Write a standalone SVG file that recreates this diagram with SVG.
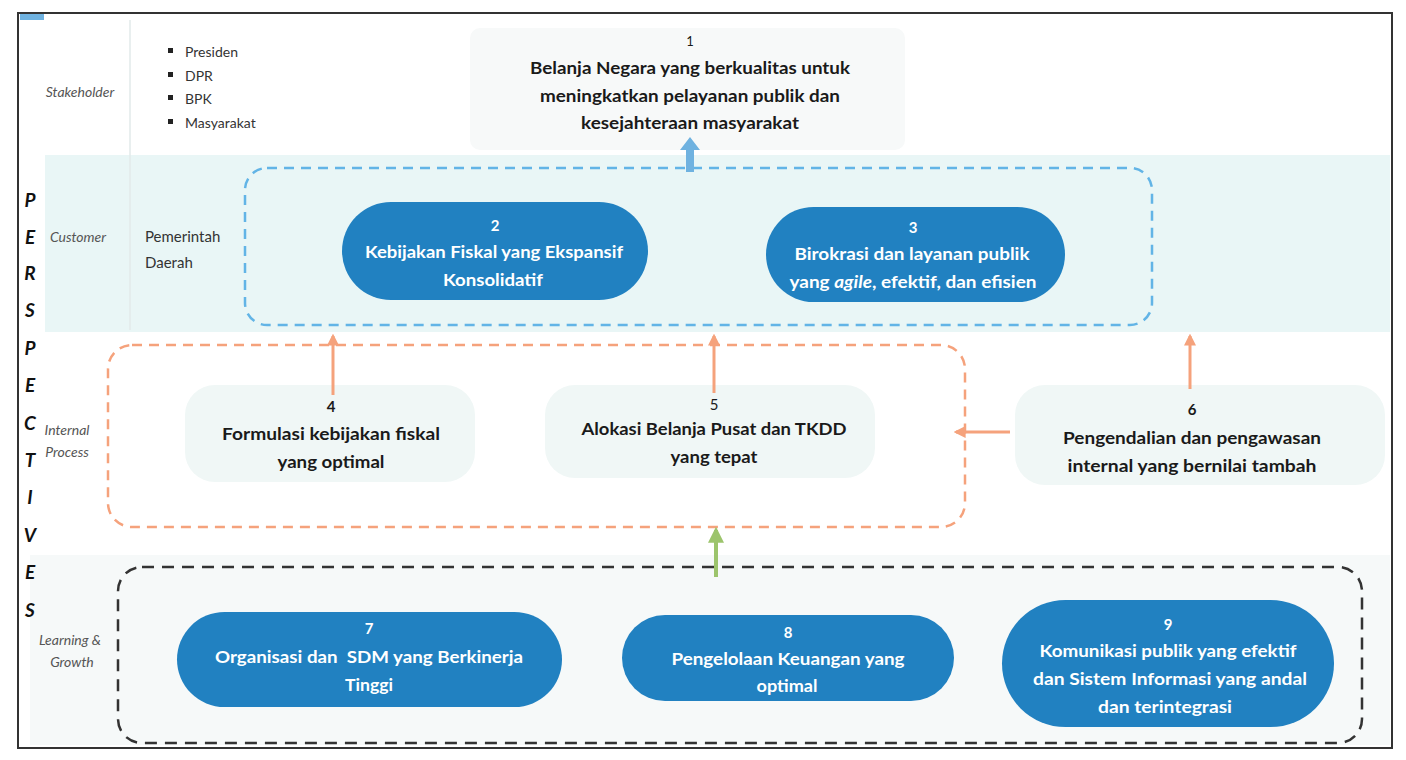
<svg xmlns="http://www.w3.org/2000/svg" width="1406" height="760" viewBox="0 0 1406 760">
<defs>
<style>
.t{font-family:Lato,"Open Sans","Liberation Sans",sans-serif;font-weight:bold;font-size:17px;text-anchor:middle;fill:#1a1a1a}
.w{fill:#ffffff}
.n{font-size:15px}
.lab{font-family:Lato,"Open Sans","Liberation Sans",sans-serif;font-style:italic;font-size:14px;fill:#555;text-anchor:middle}
.pl{font-family:Lato,"Open Sans","Liberation Sans",sans-serif;font-weight:bold;font-style:italic;font-size:19px;fill:#111;text-anchor:middle}
.bl{font-family:Lato,"Open Sans","Liberation Sans",sans-serif;font-size:14px;fill:#333}
.pill{fill:#2181c1}
.soft{fill:#f0f7f6}
.oa{stroke:#f5a27c;stroke-width:3;fill:none}
</style>
<marker id="ho" viewBox="0 0 10 10" refX="8" refY="5" markerWidth="4" markerHeight="4" orient="auto"><path d="M0,0 L10,5 L0,10 z" fill="#f5a27c"/></marker>
<marker id="hg" viewBox="0 0 10 10" refX="8" refY="5" markerWidth="4" markerHeight="4" orient="auto"><path d="M0,0 L10,5 L0,10 z" fill="#9cc46c"/></marker>
</defs>
<rect width="1406" height="760" fill="#ffffff"/>
<g id="bands">
<rect x="45" y="155" width="1345" height="177" fill="#e9f6f6"/>
<rect x="30" y="555" width="1360" height="190" fill="#f6f9f9"/>
<line x1="130" y1="20" x2="130" y2="330" stroke="#e2eaea" stroke-width="1.5"/>
<rect x="20" y="12" width="24" height="8" fill="#6fb2e0"/>
</g>
<rect id="frame" x="18" y="13" width="1374" height="735" fill="none" stroke="#333" stroke-width="2"/>
<g id="perspectives">
<text class="pl" x="30" y="207">P</text>
<text class="pl" x="30" y="244">E</text>
<text class="pl" x="30" y="280">R</text>
<text class="pl" x="30" y="317">S</text>
<text class="pl" x="30" y="355">P</text>
<text class="pl" x="30" y="392">E</text>
<text class="pl" x="30" y="430">C</text>
<text class="pl" x="30" y="467">T</text>
<text class="pl" x="30" y="504">I</text>
<text class="pl" x="30" y="542">V</text>
<text class="pl" x="30" y="579">E</text>
<text class="pl" x="30" y="617">S</text>
</g>
<g id="row-labels">
<text class="lab" x="80" y="97">Stakeholder</text>
<text class="lab" x="78" y="242">Customer</text>
<text class="lab" x="67" y="435">Internal</text>
<text class="lab" x="67" y="457">Process</text>
<text class="lab" x="70" y="645">Learning &amp;</text>
<text class="lab" x="72" y="667">Growth</text>
</g>
<g id="stakeholders">
<rect x="168" y="48" width="5" height="5" fill="#222"/>
<rect x="168" y="72" width="5" height="5" fill="#222"/>
<rect x="168" y="95" width="5" height="5" fill="#222"/>
<rect x="168" y="119" width="5" height="5" fill="#222"/>
<text class="bl" x="185" y="57">Presiden</text>
<text class="bl" x="185" y="81">DPR</text>
<text class="bl" x="185" y="104">BPK</text>
<text class="bl" x="185" y="128">Masyarakat</text>
</g>
<g id="pemda">
<text class="bl" x="145" y="242" style="font-size:15px">Pemerintah</text>
<text class="bl" x="145" y="268" style="font-size:15px">Daerah</text>
</g>
<g id="groups">
<rect x="245" y="168" width="907" height="157" rx="22" fill="none" stroke="#62b4e6" stroke-width="2.5" stroke-dasharray="10 7"/>
<rect x="108" y="345" width="857" height="182" rx="24" fill="none" stroke="#f5a27c" stroke-width="2.5" stroke-dasharray="10 7"/>
<rect x="118" y="567" width="1244" height="176" rx="24" fill="none" stroke="#333" stroke-width="2.5" stroke-dasharray="12 8"/>
</g>
<g id="node1">
<rect x="470" y="28" width="435" height="122" rx="10" fill="#f7f9f9"/>
<text class="t n" x="690" y="46" style="font-weight:normal;font-size:13px">1</text>
<text class="t" x="690" y="74" textLength="320" lengthAdjust="spacingAndGlyphs">Belanja Negara yang berkualitas untuk</text>
<text class="t" x="690" y="102" textLength="300" lengthAdjust="spacingAndGlyphs">meningkatkan pelayanan publik dan</text>
<text class="t" x="690" y="129" textLength="218" lengthAdjust="spacingAndGlyphs">kesejahteraan masyarakat</text>
</g>
<g id="node2">
<rect class="pill" x="342" y="202" width="306" height="98" rx="49"/>
<text class="t w n" x="495" y="231">2</text>
<text class="t w" x="494" y="258" textLength="258" lengthAdjust="spacingAndGlyphs">Kebijakan Fiskal yang Ekspansif</text>
<text class="t w" x="493" y="286" textLength="100" lengthAdjust="spacingAndGlyphs">Konsolidatif</text>
</g>
<g id="node3">
<rect class="pill" x="766" y="207" width="299" height="95" rx="47.5"/>
<text class="t w n" x="913" y="233">3</text>
<text class="t w" x="912" y="260" textLength="235" lengthAdjust="spacingAndGlyphs">Birokrasi dan layanan publik</text>
<text class="t w" x="913" y="288" textLength="247" lengthAdjust="spacingAndGlyphs">yang <tspan font-style="italic">agile</tspan>, efektif, dan efisien</text>
</g>
<g id="node4">
<rect class="soft" x="185" y="385" width="290" height="97" rx="30"/>
<text class="t n" x="331" y="412">4</text>
<text class="t" x="331" y="440" textLength="218" lengthAdjust="spacingAndGlyphs">Formulasi kebijakan fiskal</text>
<text class="t" x="331" y="468" textLength="107" lengthAdjust="spacingAndGlyphs">yang optimal</text>
</g>
<g id="node5">
<rect class="soft" x="545" y="385" width="330" height="93" rx="30"/>
<text class="t n" x="714" y="410" style="font-weight:normal">5</text>
<text class="t" x="714" y="435" textLength="265" lengthAdjust="spacingAndGlyphs">Alokasi Belanja Pusat dan TKDD</text>
<text class="t" x="714" y="463" textLength="87" lengthAdjust="spacingAndGlyphs">yang tepat</text>
</g>
<g id="node6">
<rect class="soft" x="1015" y="385" width="370" height="100" rx="30"/>
<text class="t n" x="1192" y="415">6</text>
<text class="t" x="1192" y="444" textLength="258" lengthAdjust="spacingAndGlyphs">Pengendalian dan pengawasan</text>
<text class="t" x="1192" y="472" textLength="249" lengthAdjust="spacingAndGlyphs">internal yang bernilai tambah</text>
</g>
<g id="node7">
<rect class="pill" x="177" y="612" width="385" height="95" rx="47.5"/>
<text class="t w n" x="369" y="634">7</text>
<text class="t w" x="369" y="663" textLength="308" lengthAdjust="spacingAndGlyphs" xml:space="preserve">Organisasi dan  SDM yang Berkinerja</text>
<text class="t w" x="369" y="691" textLength="48" lengthAdjust="spacingAndGlyphs">Tinggi</text>
</g>
<g id="node8">
<rect class="pill" x="622" y="615" width="332" height="86" rx="43"/>
<text class="t w n" x="788" y="638">8</text>
<text class="t w" x="788" y="665" textLength="233" lengthAdjust="spacingAndGlyphs">Pengelolaan Keuangan yang</text>
<text class="t w" x="787" y="692" textLength="61" lengthAdjust="spacingAndGlyphs">optimal</text>
</g>
<g id="node9">
<rect class="pill" x="1002" y="600" width="332" height="127" rx="63.5"/>
<text class="t w n" x="1168" y="630">9</text>
<text class="t w" x="1168" y="657" textLength="257" lengthAdjust="spacingAndGlyphs">Komunikasi publik yang efektif</text>
<text class="t w" x="1170" y="685" textLength="274" lengthAdjust="spacingAndGlyphs">dan Sistem Informasi yang andal</text>
<text class="t w" x="1165" y="713" textLength="134" lengthAdjust="spacingAndGlyphs">dan terintegrasi</text>
</g>
<g id="connectors">
<path d="M686,172 L686,150 L680,150 L690,137 L700,150 L694,150 L694,172 z" fill="#6fb2e0"/>
<line class="oa" x1="333" y1="395" x2="333" y2="336" marker-end="url(#ho)"/>
<line class="oa" x1="714" y1="393" x2="714" y2="336" marker-end="url(#ho)"/>
<line class="oa" x1="1190" y1="389" x2="1190" y2="336" marker-end="url(#ho)"/>
<line class="oa" x1="1010" y1="432" x2="956" y2="432" marker-end="url(#ho)"/>
<line x1="716" y1="577" x2="716" y2="530" stroke="#9cc46c" stroke-width="4" marker-end="url(#hg)"/>
</g>
</svg>
